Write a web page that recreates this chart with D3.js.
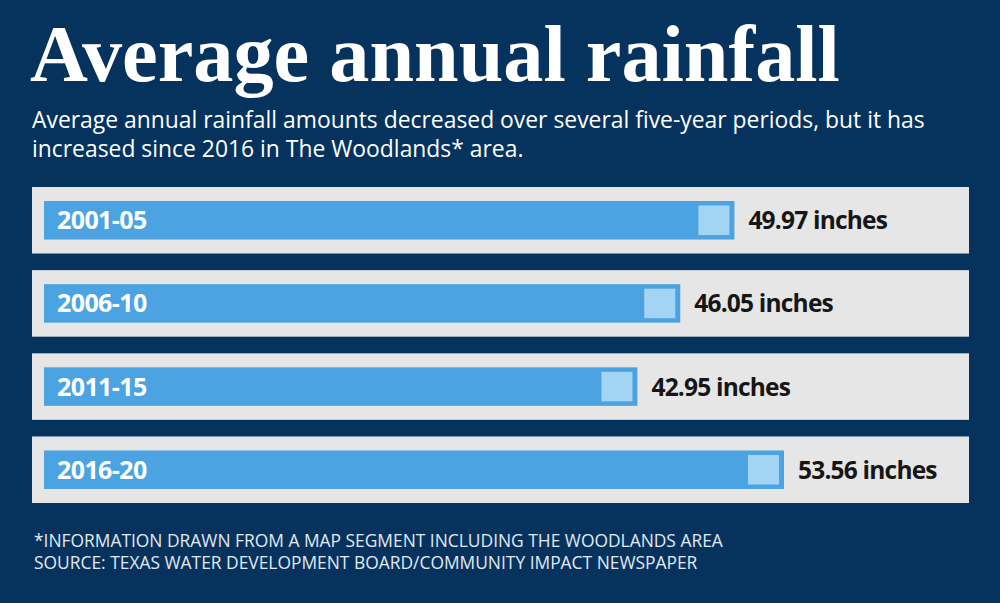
<!DOCTYPE html>
<html>
<head>
<meta charset="utf-8">
<script src="https://cdn.jsdelivr.net/npm/d3@7"></script>
<style>
  html, body { margin: 0; padding: 0; background: #05335e; }
  svg { display: block; }
</style>
</head>
<body>
<div id="chart"></div>
<script>
// Data
const periods = ["2001-05", "2006-10", "2011-15", "2016-20"];
const rainfall = [49.97, 46.05, 42.95, 53.56];
const unitLabel = "inches";

const titleText = "Average annual rainfall";
const subtitleLines = [
  "Average annual rainfall amounts decreased over several five-year periods, but it has",
  "increased since 2016 in The Woodlands* area."
];
const footerLines = [
  "*INFORMATION DRAWN FROM A MAP SEGMENT INCLUDING THE WOODLANDS AREA",
  "SOURCE: TEXAS WATER DEVELOPMENT BOARD/COMMUNITY IMPACT NEWSPAPER"
];

const width = 1000;
const height = 603;
const sans = "'Open Sans', 'Noto Sans', sans-serif";

// scale a text's font so its first line spans the target width
function fitFont(sel, size, target) {
  const w = sel.node().getComputedTextLength();
  sel.style("font-size", (size * target / w) + "px");
  return size * target / w;
}

const svg = d3.select("#chart")
  .append("svg")
  .attr("width", width)
  .attr("height", height)
  .attr("viewBox", [0, 0, width, height]);

svg.append("rect")
  .attr("width", width)
  .attr("height", height)
  .attr("fill", "#05335e");

// Title
const title = svg.append("text")
  .attr("x", 30)
  .attr("y", 81)
  .attr("fill", "#ffffff")
  .style("font-family", "'Liberation Serif', 'DejaVu Serif', serif")
  .style("font-weight", "bold")
  .style("font-size", "78px")
  .text(titleText);
fitFont(title, 78, 810);

// Subtitle
const sub = svg.append("g")
  .selectAll("text")
  .data(subtitleLines)
  .join("text")
  .attr("x", 32)
  .attr("y", (d, i) => 128 + i * 29)
  .attr("fill", "#ffffff")
  .style("font-family", sans)
  .style("font-size", "20px")
  .text(d => d);
const subSize = fitFont(d3.select(sub.nodes()[0]), 20, 893);
sub.style("font-size", subSize + "px");

// Scales
const x = d3.scaleLinear().domain([0, 60]).range([44, 873]);

const y = d3.scaleBand()
  .domain(periods)
  .range([187, 503])
  .paddingInner(0.2);

const rows = svg.append("g")
  .selectAll("g")
  .data(periods.map((p, i) => ({ period: p, value: rainfall[i] })))
  .join("g")
  .attr("transform", d => `translate(0,${y(d.period)})`);

// grey panel behind each bar
rows.append("rect")
  .attr("x", 32)
  .attr("y", 0)
  .attr("width", 969 - 32)
  .attr("height", y.bandwidth())
  .attr("fill", "#e6e6e6");

const barInset = 14;
const barH = y.bandwidth() - barInset * 2;

rows.append("rect")
  .attr("x", x(0))
  .attr("y", barInset)
  .attr("width", d => x(d.value) - x(0))
  .attr("height", barH)
  .attr("fill", "#4ba4e1");

// light square at the end of the bar
rows.append("rect")
  .attr("x", d => x(d.value) - 5 - 31)
  .attr("y", barInset + 4.5)
  .attr("width", 31)
  .attr("height", barH - 9)
  .attr("fill", "#a3d4f3");

// period labels
rows.append("text")
  .attr("x", 57)
  .attr("y", barInset + barH / 2 + 9)
  .attr("fill", "#ffffff")
  .style("font-family", sans)
  .style("font-weight", "bold")
  .style("font-size", "25px")
  .style("letter-spacing", "-0.6px")
  .text(d => d.period);

// value labels
rows.append("text")
  .attr("x", d => x(d.value) + 14)
  .attr("y", barInset + barH / 2 + 9)
  .attr("fill", "#161616")
  .style("font-family", sans)
  .style("font-weight", "bold")
  .style("font-size", "24.5px")
  .style("letter-spacing", "-0.8px")
  .text(d => `${d.value.toFixed(2)} ${unitLabel}`);

// Footer
svg.append("g")
  .selectAll("text")
  .data(footerLines)
  .join("text")
  .attr("x", 34)
  .attr("y", (d, i) => 547 + i * 22)
  .attr("fill", "#e3e9f0")
  .style("font-family", sans)
  .style("font-size", "17.4px")
  .text(d => d);
</script>
</body>
</html>
